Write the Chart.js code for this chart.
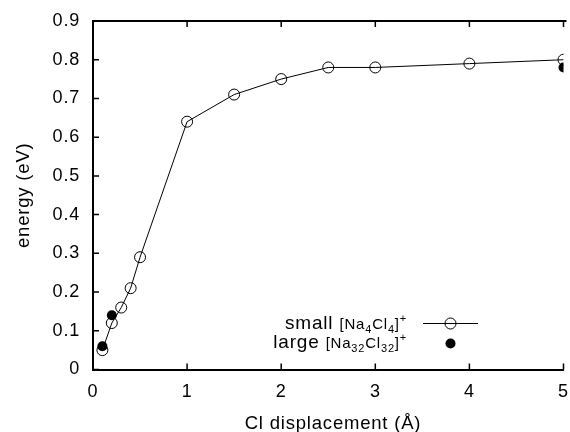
<!DOCTYPE html>
<html lang="en">
<head>
<meta charset="UTF-8">
<title>Energy vs Cl displacement</title>
<script src="https://cdn.jsdelivr.net/npm/chart.js"></script>
<style>
    body {
        margin: 0;
        background: #fff;
    }
    canvas {
        display: block;
    }
</style>
</head>
<body>
<canvas id="energyChart" width="570" height="432"></canvas>
<script>
    // data
    const smallDisp = [0.1, 0.2, 0.3, 0.4, 0.5, 1, 1.5, 2, 2.5, 3, 4, 5];
    const smallEnergy = [0.05, 0.12, 0.16, 0.21, 0.29, 0.64, 0.71, 0.75, 0.78, 0.78, 0.79, 0.80];
    const largeDisp = [0.1, 0.2, 5];
    const largeEnergy = [0.06, 0.14, 0.78];
    const xTicks = [0, 1, 2, 3, 4, 5];
    const yTicks = [0, 0.1, 0.2, 0.3, 0.4, 0.5, 0.6, 0.7, 0.8, 0.9];
    const xTitle = 'Cl displacement (Å)';
    const yTitle = 'energy (eV)';
    // legend pieces: [text, size, baseline shift]
    const smallLabel = [['small ', 19, 0], ['[Na', 15, 0], ['4', 11, 4], ['Cl', 15, 0], ['4', 11, 4], [']', 15, 0], ['+', 11, -7]];
    const largeLabel = [['large ', 19, 0], ['[Na', 15, 0], ['32', 11, 4], ['Cl', 15, 0], ['32', 11, 4], [']', 15, 0], ['+', 11, -7]];

    const FONT = "'Liberation Sans', Arial, sans-serif";
    const SPACING = '0.8px';

    function pts(xs, ys) {
        return xs.map((x, i) => ({x: x, y: ys[i]}));
    }

    function drawRich(ctx, parts, right, baseline) {
        let total = 0;
        parts.forEach(p => {
            ctx.font = p[1] + 'px ' + FONT;
            total += ctx.measureText(p[0]).width;
        });
        let x = right - total;
        ctx.textAlign = 'left';
        ctx.textBaseline = 'alphabetic';
        parts.forEach(p => {
            ctx.font = p[1] + 'px ' + FONT;
            ctx.fillText(p[0], x, baseline + p[2]);
            x += ctx.measureText(p[0]).width;
        });
    }

    const framePlugin = {
        id: 'frame',
        beforeDraw(chart) {
            chart.ctx.letterSpacing = SPACING;
        },
        afterDraw(chart) {
            const ctx = chart.ctx;
            const area = chart.chartArea;
            const xs = chart.scales.x;
            const ys = chart.scales.y;
            ctx.save();
            ctx.letterSpacing = SPACING;
            ctx.strokeStyle = '#000';

            // top border
            ctx.lineWidth = 2;
            ctx.beginPath();
            ctx.moveTo(area.left - 1, area.top);
            ctx.lineTo(area.right + 3, area.top);
            ctx.stroke();

            // inward ticks
            ctx.lineWidth = 1.5;
            ctx.beginPath();
            xTicks.forEach(v => {
                const px = xs.getPixelForValue(v);
                ctx.moveTo(px, area.bottom);
                ctx.lineTo(px, area.bottom - 6);
                ctx.moveTo(px, area.top);
                ctx.lineTo(px, area.top + 6);
            });
            yTicks.forEach(v => {
                const py = ys.getPixelForValue(v);
                ctx.moveTo(area.left, py);
                ctx.lineTo(area.left + 6, py);
            });
            ctx.stroke();

            // axis titles
            ctx.fillStyle = '#000';
            ctx.font = '18.5px ' + FONT;
            ctx.textAlign = 'center';
            ctx.textBaseline = 'middle';
            ctx.fillText(xTitle, 333, 424);
            ctx.save();
            ctx.translate(24, (area.top + area.bottom) / 2);
            ctx.rotate(-Math.PI / 2);
            ctx.fillText(yTitle, 0, 0);
            ctx.restore();

            // legend
            drawRich(ctx, smallLabel, 407, 329);
            drawRich(ctx, largeLabel, 407, 348);
            ctx.lineWidth = 1;
            ctx.beginPath();
            ctx.moveTo(423, 323.5);
            ctx.lineTo(478, 323.5);
            ctx.stroke();
            ctx.beginPath();
            ctx.arc(450.5, 323.5, 5.5, 0, Math.PI * 2);
            ctx.stroke();
            ctx.beginPath();
            ctx.arc(450.5, 343.5, 5, 0, Math.PI * 2);
            ctx.fill();
            ctx.restore();
        }
    };

    new Chart(document.getElementById('energyChart'), {
        type: 'line',
        data: {
            datasets: [{
                label: 'large [Na32Cl32]+',
                data: pts(largeDisp, largeEnergy),
                showLine: false,
                pointRadius: 5,
                pointBorderWidth: 0,
                pointBackgroundColor: '#000',
                pointBorderColor: '#000',
                order: 0
            }, {
                label: 'small [Na4Cl4]+',
                data: pts(smallDisp, smallEnergy),
                borderColor: '#000',
                borderWidth: 1,
                tension: 0,
                pointRadius: 5.5,
                pointBorderWidth: 1,
                pointBorderColor: '#000',
                pointBackgroundColor: 'rgba(0,0,0,0)',
                order: 1
            }]
        },
        options: {
            responsive: false,
            animation: false,
            layout: {padding: {left: 0, top: 21, right: 4, bottom: 0}},
            plugins: {
                legend: {display: false},
                tooltip: {enabled: false}
            },
            scales: {
                x: {
                    type: 'linear',
                    min: 0,
                    max: 5,
                    afterBuildTicks: s => { s.ticks = xTicks.map(v => ({value: v})); },
                    afterFit: s => { s.height = 62.5; s.paddingLeft = 0; s.paddingRight = 0; },
                    grid: {display: false, drawTicks: false},
                    border: {display: true, color: '#000', width: 2},
                    ticks: {
                        color: '#000',
                        padding: 12,
                        maxRotation: 0,
                        font: {family: FONT, size: 18}
                    }
                },
                y: {
                    type: 'linear',
                    min: 0,
                    max: 0.9,
                    afterBuildTicks: s => { s.ticks = yTicks.map(v => ({value: v})); },
                    afterFit: s => { s.width = 93; s.paddingTop = 0; s.paddingBottom = 0; },
                    grid: {display: false, drawTicks: false},
                    border: {display: true, color: '#000', width: 2},
                    ticks: {
                        color: '#000',
                        padding: 13,
                        font: {family: FONT, size: 18},
                        callback: v => String(+v.toFixed(1))
                    }
                }
            }
        },
        plugins: [framePlugin]
    });
</script>
</body>
</html>
